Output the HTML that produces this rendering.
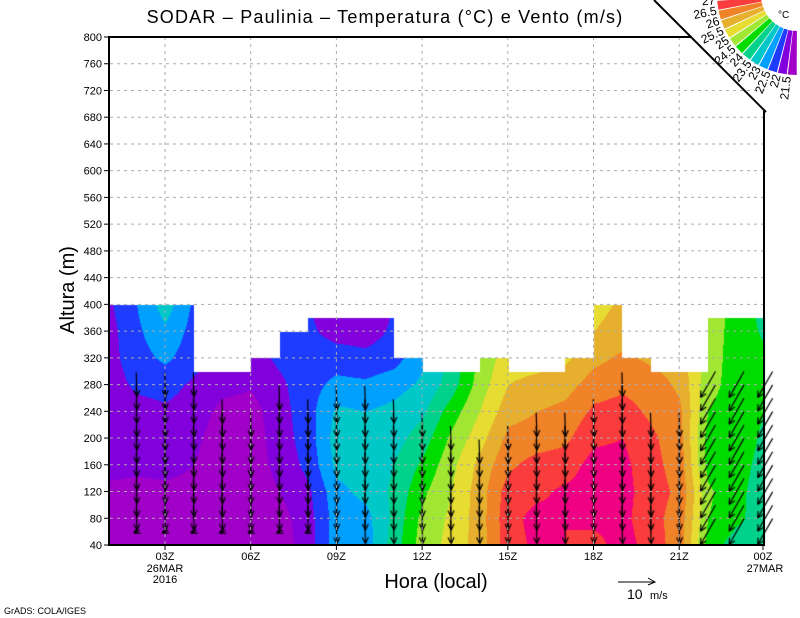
<!DOCTYPE html>
<html><head><meta charset="utf-8">
<style>
html,body{margin:0;padding:0;background:#fff;}
#w{position:relative;width:800px;height:618px;overflow:hidden;}
canvas,svg{position:absolute;left:0;top:0;}
text{font-family:"Liberation Sans",sans-serif;fill:#000;}
</style></head><body>
<div id="w">
<canvas id="c" width="800" height="618"></canvas>
<svg id="s" width="800" height="618" xmlns="http://www.w3.org/2000/svg">
<g id="grid" stroke="#aaa" stroke-width="1" stroke-dasharray="3,4" fill="none"></g>
<g id="ax"></g>
<text x="385" y="23" font-size="18" letter-spacing="1.2" text-anchor="middle">SODAR – Paulinia – Temperatura (°C) e Vento (m/s)</text>
<text transform="translate(74,290) rotate(-90)" font-size="20" text-anchor="middle">Altura (m)</text>
<text x="436" y="588" font-size="20" text-anchor="middle">Hora (local)</text>
<line x1="618" y1="582" x2="655" y2="582" stroke="#000"/>
<polyline points="648,578 655,582 648,585" fill="none" stroke="#000"/>
<text x="627" y="599" font-size="14">10</text>
<text x="650" y="599" font-size="11">m/s</text>
<text x="4" y="614" font-size="9">GrADS: COLA/IGES</text>
<g id="cb"></g>
<line x1="654" y1="0" x2="766" y2="112" stroke="#000" stroke-width="2"/>
<text x="778" y="18" font-size="10">°C</text>
</svg>
</div>
<script>
var cols=["#a000c8","#8200dc","#1e3cff","#00a0ff","#00c8c8","#00d28c","#00dc00","#a0e632","#e6dc32","#e6af2d","#f08228","#fa3c3c","#f00082"];
var G=[
[0.6,0.5,0.8,1.3,1.5,1.5,1.5,1.6,1.6,1.8],
[0.5,0.5,0.6,1.3,1.5,1.6,2.2,2.6,2.8,3.0],
[0.5,0.5,0.7,1.4,1.6,1.8,2.4,3.2,3.8,4.5],
[0.5,0.5,0.6,1.0,1.2,1.5,1.8,2.4,2.6,2.8],
[0.6,0.5,0.5,0.5,0.5,0.7,1.3,1.5,1.6,1.6],
[0.5,0.5,0.5,0.5,0.5,0.6,1.1,1.6,1.7,1.7],
[0.5,0.6,1.0,1.3,1.5,1.6,1.8,2.2,2.8,2.8],
[1.5,1.6,1.8,2.3,2.5,2.6,2.6,2.5,2.2,2.0],
[3.6,3.5,3.7,4.3,4.5,4.2,3.3,2.5,1.6,1.4],
[3.5,3.6,4.3,4.5,4.4,4.0,3.2,2.3,1.5,1.3],
[5.5,5.3,5.2,5.0,4.6,4.3,3.6,2.6,2.2,2.0],
[7.5,7.3,6.8,6.2,5.5,4.8,4.2,3.8,3.6,3.5],
[8.3,8.2,8.0,7.7,7.2,6.5,5.5,5.2,5.0,5.0],
[9.5,9.5,9.5,9.3,8.6,8.0,7.5,7.2,7.0,7.0],
[11.6,11.7,11.5,10.8,10.3,9.6,9.0,8.6,8.5,8.5],
[12.2,12.3,11.8,11.4,10.5,10.0,9.3,8.6,8.5,8.5],
[12.0,12.0,12.2,11.5,10.8,10.3,9.6,8.8,8.7,8.7],
[11.6,12.3,12.5,12.4,11.8,11.2,10.5,9.7,9.0,8.6],
[12.5,12.3,12.4,12.3,12.0,11.4,10.8,10.2,9.5,9.2],
[11.5,11.3,11.4,11.3,11.2,10.8,10.5,9.8,9.6,9.5],
[10.5,10.6,10.8,10.6,10.4,10.2,9.8,9.5,9.3,9.3],
[6.5,7.0,7.2,6.6,6.5,7.0,7.3,7.5,7.5,7.5],
[5.5,6.2,6.2,6.3,6.5,6.5,6.6,6.5,6.6,6.7],
[5.5,5.5,5.6,5.7,5.8,6.0,6.2,6.2,5.8,5.5]];
var tops=[[108,194,400],[194,251,300],[251,280,320],[280,308,360],[308,394,380],[394,423,320],[423,480,300],[480,509,320],[509,565,300],[565,594,320],[594,622,400],[622,651,320],[651,708,300],[708,765,380]];
function Y(h){return 545-(h-40)*508/760;}
function topAt(x){for(var i=0;i<tops.length;i++)if(x>=tops[i][0]&&x<tops[i][1])return tops[i][2];return 380;}
var c=document.getElementById('c').getContext('2d');
for(var x=109;x<765;x++){
 var k=(x-108)/28.57;var k0=Math.min(22,Math.floor(k));var fk=k-k0;
 var ty=Y(topAt(x));
 for(var y=Math.ceil(ty);y<545;y++){
  var h=40+(545-y)*760/508;var l=(h-40)/40;var l0=Math.min(8,Math.max(0,Math.floor(l)));var fl=Math.min(1,Math.max(0,l-l0));
  var v=(G[k0][l0]*(1-fl)+G[k0][l0+1]*fl)*(1-fk)+(G[k0+1][l0]*(1-fl)+G[k0+1][l0+1]*fl)*fk;
  var ci=Math.max(0,Math.min(12,Math.floor(v)));
  c.fillStyle=cols[ci];c.fillRect(x,y,1,1);
 }
}
c.strokeStyle="#000";c.lineWidth=1.2;
function arrow(x,y,dx,dy,L){var x1=x-dx*L/2,y1=y-dy*L/2,x2=x+dx*L/2,y2=y+dy*L/2;
 c.beginPath();c.moveTo(x1,y1);c.lineTo(x2,y2);
 var a=Math.atan2(dy,dx),hl=7;
 c.moveTo(x2,y2);c.lineTo(x2-hl*Math.cos(a-0.45),y2-hl*Math.sin(a-0.45));
 c.moveTo(x2,y2);c.lineTo(x2-hl*Math.cos(a+0.45),y2-hl*Math.sin(a+0.45));c.stroke();}
var atop=[0,300,300,300,260,240,280,260,280,280,260,240,220,200,220,240,240,260,300,240,240,300,300,300];
for(var k=1;k<24;k++){var x=108+k*28.57;
 for(var h=60;h<=atop[k]-20;h+=20){var y=Y(h);
  if(k>=21)arrow(x,y,-0.5,0.87,30);
  else if(h<=60&&k<8)arrow(x,y,-0.6,0.3,10);
  else arrow(x,y,0.03,1,24);}}
var ns="http://www.w3.org/2000/svg";
function el(p,t,a,txt){var e=document.createElementNS(ns,t);for(var q in a)e.setAttribute(q,a[q]);if(txt)e.textContent=txt;p.appendChild(e);return e;}
var g=document.getElementById('grid'),ax=document.getElementById('ax');
for(var h=80;h<=760;h+=40)el(g,'line',{x1:110,x2:763,y1:Y(h),y2:Y(h)});
for(var i=0;i<7;i++){var x=165+i*85.7;el(g,'line',{x1:x,x2:x,y1:37,y2:545});}
el(ax,'polyline',{points:"692,37 109,37 109,545 764,545 764,111",fill:"none",stroke:"#000","stroke-width":2});
for(var h=40;h<=800;h+=40){var y=Y(h);el(ax,'line',{x1:104,x2:109,y1:y,y2:y,stroke:"#000"});el(ax,'text',{x:102,y:y+4,"font-size":11,"text-anchor":"end"},""+h);}
var lab=["03Z","06Z","09Z","12Z","15Z","18Z","21Z","00Z"];
for(var i=0;i<8;i++){var x=165+i*85.7;if(i==7)x=763;el(ax,'line',{x1:x,x2:x,y1:545,y2:550,stroke:"#000"});el(ax,'text',{x:x,y:560,"font-size":11,"text-anchor":"middle"},lab[i]);}
el(ax,'text',{x:165,y:572,"font-size":11,"text-anchor":"middle"},"26MAR");
el(ax,'text',{x:165,y:583,"font-size":11,"text-anchor":"middle"},"2016");
el(ax,'text',{x:765,y:572,"font-size":11,"text-anchor":"middle"},"27MAR");
var cb=document.getElementById('cb'),cx=797,cy=-5,r1=36,r2=80;
function P(r,t){var a=t*Math.PI/180;return (cx+r*Math.cos(a)).toFixed(1)+","+(cy+r*Math.sin(a)).toFixed(1);}
for(var i=0;i<13;i++){var t0=183-i*7.2,t1=t0-6.4;
 el(cb,'polygon',{points:P(r1,t0)+" "+P(r2,t0)+" "+P(r2,t1)+" "+P(r1,t1),fill:cols[12-i]});}
for(var i=0;i<12;i++){var t=183-(i+1)*7.2+0.4;var a=t*Math.PI/180;
 var tx=cx+(r2+2)*Math.cos(a),ty=cy+(r2+2)*Math.sin(a);
 el(cb,'text',{x:0,y:0,"font-size":12,"text-anchor":"end",transform:"translate("+tx.toFixed(1)+","+ty.toFixed(1)+") rotate("+(t-180)+") translate(0,4)"},""+(27-0.5*i));}
</script>
</body></html>
